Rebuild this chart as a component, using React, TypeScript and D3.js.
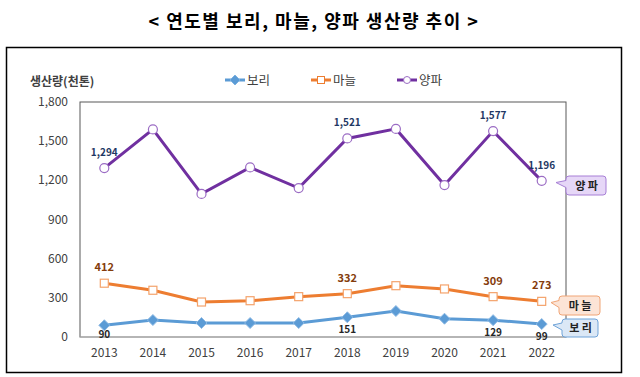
import React from "react";
import * as d3 from "d3";

const years = ["2013", "2014", "2015", "2016", "2017", "2018", "2019", "2020", "2021", "2022"];
const barley = [90, 130, 107, 107, 107, 151, 199, 140, 129, 99];
const garlic = [412, 358, 268, 278, 309, 332, 393, 368, 309, 273];
const onion = [1294, 1590, 1096, 1299, 1141, 1521, 1594, 1164, 1577, 1196];
const yTicks = [0, 300, 600, 900, 1200, 1500, 1800];

const barleyLabels = [0, 5, 8, 9];
const garlicLabels = [0, 5, 8, 9];
const onionLabels = [0, 5, 8, 9];

const FONT = "'Noto Sans CJK KR', 'Noto Sans', sans-serif";

export default function App() {
  const W = 640, H = 377;
  const left = 80, right = 566, top = 102, bottom = 337;
  const x = d3.scaleBand<string>().domain(years).range([left, right]);
  const cx = (i: number) => (x(years[i]) as number) + x.bandwidth() / 2;
  const y = d3.scaleLinear().domain([0, 1800]).range([bottom, top]);
  const line = d3.line<number>().x((_, i) => cx(i)).y((d) => y(d));
  const fmt = d3.format(",");
  const barleyOffset = (i: number) => (i === 0 ? 13 : i === 9 ? 16 : 16);

  const callout = (bx: number, by: number, w: number, h: number, tipX: number, fill: string, stroke: string, label: string) => {
    const my = by + h / 2;
    const p = `M${bx + 4},${by} H${bx + w - 3} Q${bx + w},${by} ${bx + w},${by + 3} V${by + h - 3} Q${bx + w},${by + h} ${bx + w - 3},${by + h} H${bx + 4} Q${bx + 1},${by + h} ${bx + 1},${by + h - 3} V${my + 2} L${tipX},${my - 3} L${bx + 1},${my - 5} V${by + 3} Q${bx + 1},${by} ${bx + 4},${by} Z`;
    return (
      <g>
        <path d={p} fill={fill} stroke={stroke} strokeWidth={1} />
        <text x={bx + w / 2 + 1} y={my + 4} textAnchor="middle" fontSize={11} fontWeight="bold" fill="#222" fontFamily={FONT}>{label}</text>
      </g>
    );
  };

  return (
    <svg width={W} height={H} style={{ position: "absolute", left: 0, top: 0, background: "#fff" }}>
      <text x={314} y={28} textAnchor="middle" fontSize={18} fontWeight="bold" letterSpacing={1.5} fontFamily={FONT} fill="#000">
        &lt; 연도별 보리, 마늘, 양파 생산량 추이 &gt;
      </text>
      <rect x={6.5} y={47.5} width={615} height={325} fill="none" stroke="#000" strokeWidth={1.5} />

      {/* plot frame */}
      <rect x={left} y={top} width={right - left} height={bottom - top} fill="none" stroke="#595959" strokeWidth={1} />
      <line x1={left} x2={right} y1={bottom} y2={bottom} stroke="#bfbfbf" strokeWidth={1} />

      {/* y axis */}
      {yTicks.map((t) => (
        <text key={t} x={68} y={y(t) + 4} textAnchor="end" fontSize={12} fill="#404040" fontFamily={FONT}>{fmt(t)}</text>
      ))}
      <text x={30} y={86} fontSize={12} fontWeight="bold" fill="#404040" fontFamily={FONT}>생산량(천톤)</text>

      {/* x axis */}
      {years.map((yr, i) => (
        <text key={yr} x={cx(i)} y={357} textAnchor="middle" fontSize={12} fill="#404040" fontFamily={FONT}>{yr}</text>
      ))}

      {/* legend */}
      <g fontFamily={FONT} fontSize={12.5} fill="#404040">
        <line x1={225} x2={245} y1={80} y2={80} stroke="#5b9bd5" strokeWidth={3} />
        <path d="M235,75 L240,80 L235,85 L230,80 Z" fill="#5b9bd5" stroke="#7db2e0" strokeWidth={1} />
        <text x={247} y={85}>보리</text>
        <line x1={311} x2={331} y1={80} y2={80} stroke="#ed7d31" strokeWidth={3} />
        <rect x={317.5} y={76.5} width={7} height={7} fill="#fff" stroke="#ed7d31" strokeWidth={1} />
        <text x={333} y={85}>마늘</text>
        <line x1={397} x2={417} y1={80} y2={80} stroke="#7030a0" strokeWidth={3} />
        <circle cx={407} cy={80} r={3.5} fill="#fff" stroke="#9b6cc4" strokeWidth={1} />
        <text x={419} y={85}>양파</text>
      </g>

      {/* lines */}
      <path d={line(onion) as string} fill="none" stroke="#7030a0" strokeWidth={3} />
      <path d={line(garlic) as string} fill="none" stroke="#ed7d31" strokeWidth={3} />
      <path d={line(barley) as string} fill="none" stroke="#5b9bd5" strokeWidth={3} />

      {onion.map((v, i) => (
        <circle key={"o" + i} cx={cx(i)} cy={y(v)} r={4.5} fill="#fff" stroke="#9b6cc4" strokeWidth={1.2} />
      ))}
      {garlic.map((v, i) => (
        <rect key={"g" + i} x={cx(i) - 4} y={y(v) - 4} width={8} height={8} fill="#fff" stroke="#f4a36c" strokeWidth={1.2} />
      ))}
      {barley.map((v, i) => (
        <path key={"b" + i} d={`M${cx(i)},${y(v) - 5.5} L${cx(i) + 5.5},${y(v)} L${cx(i)},${y(v) + 5.5} L${cx(i) - 5.5},${y(v)} Z`} fill="#5b9bd5" stroke="#8fbbe5" strokeWidth={1} />
      ))}

      {/* data labels */}
      <g fontFamily={FONT} fontWeight="bold" fontSize={10}>
        {onionLabels.map((i) => (
          <text key={"ol" + i} x={cx(i)} y={y(onion[i]) - 12} textAnchor="middle" fill="#1f3864">{fmt(onion[i])}</text>
        ))}
        {garlicLabels.map((i) => (
          <text key={"gl" + i} x={cx(i)} y={y(garlic[i]) - 12} textAnchor="middle" fill="#843c0c" fontSize={11}>{fmt(garlic[i])}</text>
        ))}
        {barleyLabels.map((i) => (
          <text key={"bl" + i} x={cx(i)} y={y(barley[i]) + barleyOffset(i)} textAnchor="middle" fill="#262626">{fmt(barley[i])}</text>
        ))}
      </g>

      {callout(565, 176, 41, 19, 556, "#e6d7f7", "#a77fd6", "양 파")}
      {callout(558, 296, 42, 19, 551, "#fce4d6", "#f0a577", "마 늘")}
      {callout(561, 319, 37, 18, 553, "#dbe8f6", "#6fa3d8", "보 리")}
    </svg>
  );
}
